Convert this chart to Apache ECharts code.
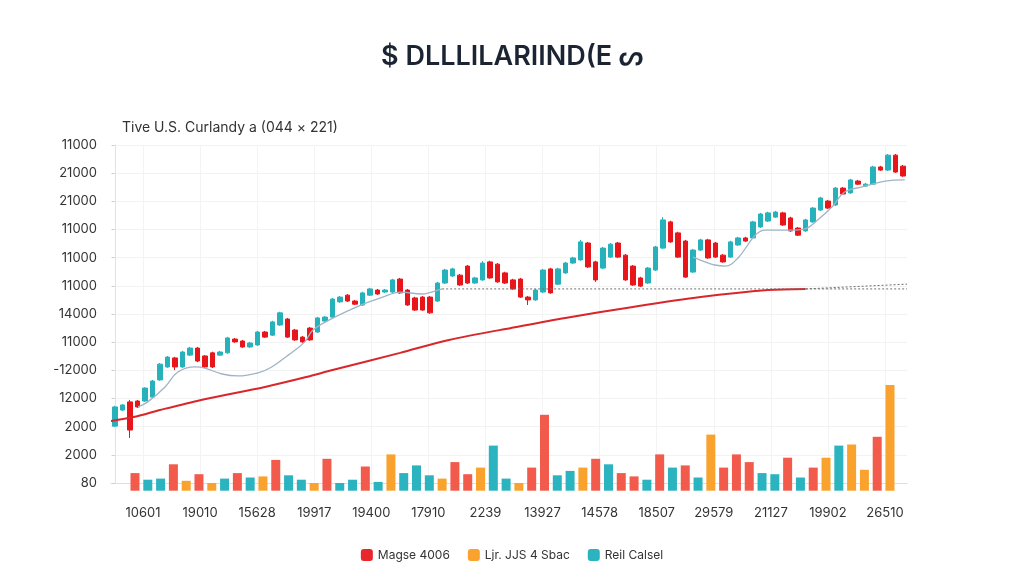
<!DOCTYPE html>
<html>
<head>
<meta charset="utf-8">
<title>Candles</title>
<script src="https://cdn.jsdelivr.net/npm/echarts@6/dist/echarts.min.js"></script>
<style>
  html, body { margin: 0; padding: 0; background: #fff; }
  #chart { width: 1024px; height: 585px; }
</style>
</head>
<body>
<div id="chart"></div>
<script>
// y tick labels, bottom to top (as printed on the chart)
const yTickLabels = ['80', '2000', '2000', '12000', '-12000', '11000', '14000', '11000', '11000', '11000', '21000', '21000', '11000']

// x labels under the volume bars
const xTickLabels = ['10601', '19010', '15628', '19917', '19400', '17910', '2239', '13927', '14578', '18507', '29579', '21127', '19902', '26510']

// candles: [open, close, low, high]
const candleOHLC = [
  [2020, 2700, 1990, 2740], [2590, 2770, 2560, 2800], [2880, 1880, 1600, 2950], [2910, 2700, 2670, 2950],
  [2910, 3370, 2880, 3400], [3050, 3620, 3020, 3660], [3660, 4220, 3630, 4260], [4120, 4470, 4090, 4510],
  [4440, 4120, 4010, 4480], [4120, 4650, 4090, 4690], [4540, 4790, 4510, 4830], [4790, 4330, 4290, 4830],
  [4510, 4120, 4080, 4540], [4620, 4120, 4080, 4660], [4540, 4650, 4510, 4690], [4620, 5150, 4590, 5190],
  [5110, 5010, 4980, 5150], [5040, 4830, 4800, 5080], [4830, 4970, 4800, 5010], [4900, 5360, 4870, 5400],
  [5360, 5180, 5150, 5400], [5250, 5720, 5220, 5760], [5610, 6040, 5580, 6080], [5820, 5180, 5150, 5860],
  [5430, 5080, 5050, 5470], [5180, 5010, 4980, 5220], [5500, 5080, 5050, 5540], [5360, 5860, 5330, 5900],
  [5750, 5890, 5720, 5930], [5890, 6530, 5860, 6570], [6430, 6600, 6400, 6640], [6670, 6460, 6430, 6710],
  [6460, 6350, 6320, 6500], [6320, 6750, 6290, 6790], [6670, 6890, 6640, 6930], [6850, 6710, 6680, 6890],
  [6780, 6850, 6750, 6890], [6780, 7210, 6750, 7250], [7240, 6750, 6720, 7280], [6850, 6320, 6290, 6890],
  [6570, 6140, 6110, 6610], [6600, 6140, 6110, 6640], [6600, 6040, 6010, 6640], [6460, 7100, 6430, 7140],
  [7100, 7560, 7070, 7600], [7350, 7600, 7320, 7640], [7380, 7030, 7000, 7420], [7700, 7100, 7070, 7740],
  [7100, 7280, 7070, 7320], [7210, 7810, 7180, 7880], [7850, 7280, 7250, 7890], [7770, 7140, 7110, 7810],
  [7460, 7100, 7070, 7500], [7210, 6890, 6860, 7250], [7240, 6600, 6570, 7280], [6600, 6500, 6320, 6640],
  [6500, 6850, 6470, 6890], [6780, 7560, 6750, 7600], [7600, 6750, 6720, 7640], [7060, 7600, 7030, 7640],
  [7460, 7810, 7430, 7850], [7810, 7990, 7780, 8030], [7920, 8560, 7890, 8630], [8520, 7670, 7640, 8560],
  [7850, 7210, 7140, 7890], [7630, 8340, 7600, 8380], [8020, 8480, 7990, 8520], [8520, 8020, 7990, 8560],
  [8090, 7210, 7180, 8130], [7700, 7030, 7000, 7740], [7280, 6990, 6960, 7320], [7100, 7630, 7070, 7670],
  [7560, 8380, 7530, 8420], [8340, 9340, 8310, 9440], [9270, 8560, 8530, 9310], [8880, 8020, 7990, 8920],
  [8590, 7310, 7280, 8630], [7490, 8270, 7460, 8310], [8270, 8630, 8240, 8670], [8630, 7990, 7960, 8670],
  [8520, 8020, 7990, 8560], [8090, 7850, 7820, 8130], [8020, 8560, 7990, 8600], [8450, 8700, 8420, 8740],
  [8700, 8590, 8560, 8740], [8700, 9270, 8670, 9310], [9090, 9550, 9060, 9590], [9300, 9590, 9270, 9630],
  [9440, 9620, 9410, 9660], [9590, 9160, 9130, 9630], [9410, 8950, 8920, 9450], [9050, 8800, 8770, 9090],
  [8950, 9340, 8920, 9380], [9270, 9760, 9240, 9800], [9690, 10120, 9660, 10160], [10010, 9760, 9730, 10050],
  [9870, 10470, 9840, 10510], [10470, 10260, 10230, 10510], [10300, 10760, 10270, 10800], [10720, 10610, 10580, 10760],
  [10540, 10610, 10510, 10650], [10610, 11220, 10580, 11260], [11220, 11110, 11080, 11260], [11110, 11640, 11080, 11680],
  [11640, 11040, 11010, 11680], [11250, 10900, 10870, 11290]
]

// moving average, two pieces: [candle position, value]
const maFirst = [
  [3.1, 2700], [4.4, 2880], [6.7, 3410], [8.4, 3940], [10.7, 4120], [12.0, 4080], [14.3, 3870],
  [16.4, 3800], [19.1, 3910], [20.9, 4120], [23.1, 4540], [25.3, 5010], [26.4, 5430], [29.1, 5860],
  [33.1, 6350], [35.7, 6600], [38.0, 6780], [40.9, 6710], [42.2, 6780], [43.6, 6890]
]
const maSecond = [
  [77.0, 8020], [78.6, 7850], [79.9, 7740], [81.3, 7700], [83.0, 7990], [85.3, 8800], [86.6, 8980],
  [90.6, 8980], [91.9, 9020], [93.6, 9340], [95.5, 9800], [97.2, 10330], [99.5, 10510], [102.6, 10720],
  [105.2, 10760]
]

// long red trend line
const trendLine = [
  [-0.5, 2200], [2.5, 2340], [6, 2590], [11.5, 2950], [20, 3410], [25.5, 3760], [29, 4010], [38, 4620],
  [44.5, 5080], [53.5, 5540], [60, 5860], [69, 6250], [78, 6600], [87, 6850], [92, 6890]
]

// dotted level lines
const levelFlat = [[43.6, 6890], [105.5, 6890]]
const levelRising = [[92, 6890], [105.5, 7060]]

// volume bars and their group (r / o / t)
const volumeValues = [
  160, 100, 110, 240, 90, 150, 70, 110, 160, 120, 130, 280, 140, 100, 70, 290, 70, 100, 220, 80,
  330, 160, 230, 140, 110, 260, 150, 210, 410, 110, 70, 210, 690, 140, 180, 210, 290, 240, 160, 130,
  100, 330, 210, 230, 120, 510, 210, 330, 260, 160, 150, 300, 120, 210, 300, 410, 420, 190, 490, 960
]
const volumeGroup = [
  'r', 't', 't', 'r', 'o', 'r', 'o', 't', 'r', 't', 'o', 'r', 't', 't', 'o', 'r', 't', 't', 'r', 't',
  'o', 't', 't', 't', 'o', 'r', 'r', 'o', 't', 't', 'o', 'r', 'r', 't', 't', 'o', 'r', 't', 'r', 'r',
  't', 'r', 't', 'r', 't', 'o', 'r', 'r', 'r', 't', 't', 'r', 't', 'r', 'o', 't', 'o', 'o', 'r', 'o'
]

const seriesNames = { r: 'Magse 4006', o: 'Ljr. JJS 4 Sbac', t: 'Reil Calsel' }
const barColors = { r: '#f25a4c', o: '#f9a22e', t: '#2bb4c0' }
const legendColors = { r: '#e8262b', o: '#f9a22e', t: '#2bb4c0' }

const UP = '#27b2bb'
const DOWN = '#e8161b'
const FONT = 'Inter, "Noto Sans", sans-serif'

const chart = echarts.init(document.getElementById('chart'))

const volumeSeries = ['r', 'o', 't'].map((g) => ({
  name: seriesNames[g],
  type: 'bar',
  xAxisIndex: 2,
  yAxisIndex: 1,
  barWidth: 9,
  barGap: '-100%',
  itemStyle: { color: barColors[g] },
  data: volumeValues.map((v, i) => (volumeGroup[i] === g ? v : '-')),
}))

chart.setOption({
  animation: false,
  backgroundColor: '#fff',
  textStyle: { fontFamily: FONT },
  title: [
    {
      text: '$ DLLLILARIIND(E ᔕ',
      left: 'center',
      top: 38,
      textStyle: { fontSize: 27, fontWeight: 600, color: '#1b2433', fontFamily: FONT },
    },
    {
      text: 'Tive U.S. Curlandy a (044 × 221)',
      left: 117,
      top: 116,
      textStyle: { fontSize: 14, fontWeight: 'normal', color: '#333', fontFamily: FONT },
    },
  ],
  legend: {
    bottom: 19,
    left: 'center',
    icon: 'roundRect',
    itemWidth: 12,
    itemHeight: 12,
    itemGap: 18,
    textStyle: { fontSize: 12, color: '#333', fontFamily: FONT },
    data: ['r', 'o', 't'].map((g) => ({ name: seriesNames[g], itemStyle: { color: legendColors[g] } })),
  },
  grid: [
    { left: 111, right: 117, top: 145, bottom: 102 },
    { left: 128.6, right: 127.6, top: 380.7, bottom: 94.3 },
    { left: 143, right: 139, top: 145, bottom: 94.3 },
  ],
  xAxis: [
    {
      type: 'category',
      gridIndex: 0,
      data: candleOHLC.map((_, i) => i),
      offset: 8,
      axisLine: { lineStyle: { color: '#dedede' } },
      axisTick: { show: false },
      axisLabel: { show: false },
      splitLine: { show: false },
    },
    {
      type: 'value',
      gridIndex: 0,
      min: -0.5,
      max: candleOHLC.length - 0.5,
      show: false,
    },
    {
      type: 'category',
      gridIndex: 1,
      data: volumeValues.map((_, i) => i),
      show: false,
    },
    {
      type: 'category',
      gridIndex: 2,
      data: xTickLabels,
      boundaryGap: false,
      axisLine: { show: false },
      axisTick: { show: false },
      axisLabel: { margin: 16, fontSize: 13, color: '#333' },
      splitLine: { show: true, lineStyle: { color: '#f3f3f3' } },
    },
  ],
  yAxis: [
    {
      type: 'value',
      gridIndex: 0,
      min: 0,
      max: 12000,
      interval: 1000,
      axisLine: { show: true, lineStyle: { color: '#e2e2e2' } },
      axisTick: { show: true, length: 3, lineStyle: { color: '#cfcfcf' } },
      axisLabel: {
        margin: 14,
        fontSize: 13,
        color: '#333',
        formatter: (v) => yTickLabels[Math.round(v / 1000)],
      },
      splitLine: { lineStyle: { color: '#f2f2f2' } },
    },
    { type: 'value', gridIndex: 1, min: 0, max: 1000, show: false },
    { type: 'value', gridIndex: 2, show: false },
  ],
  series: [
    {
      type: 'candlestick',
      xAxisIndex: 0,
      yAxisIndex: 0,
      barWidth: 5,
      itemStyle: {
        color: UP,
        color0: DOWN,
        borderColor: UP,
        borderColor0: DOWN,
        borderWidth: 1,
      },
      data: candleOHLC,
    },
    {
      type: 'line',
      xAxisIndex: 1,
      yAxisIndex: 0,
      data: trendLine,
      smooth: 0.3,
      symbol: 'none',
      lineStyle: { color: '#d9262a', width: 2 },
    },
    {
      type: 'line',
      xAxisIndex: 1,
      yAxisIndex: 0,
      data: maFirst,
      smooth: 0.4,
      symbol: 'none',
      lineStyle: { color: '#9fb4c7', width: 1.3 },
    },
    {
      type: 'line',
      xAxisIndex: 1,
      yAxisIndex: 0,
      data: maSecond,
      smooth: 0.4,
      symbol: 'none',
      lineStyle: { color: '#9fb4c7', width: 1.3 },
    },
    {
      type: 'line',
      xAxisIndex: 1,
      yAxisIndex: 0,
      data: levelFlat,
      symbol: 'none',
      clip: false,
      lineStyle: { color: '#6f6f6f', width: 1, type: [2, 2] },
    },
    {
      type: 'line',
      xAxisIndex: 1,
      yAxisIndex: 0,
      data: levelRising,
      symbol: 'none',
      clip: false,
      lineStyle: { color: '#6f6f6f', width: 1, type: [2, 2] },
    },
    ...volumeSeries,
  ],
})
</script>
</body>
</html>
